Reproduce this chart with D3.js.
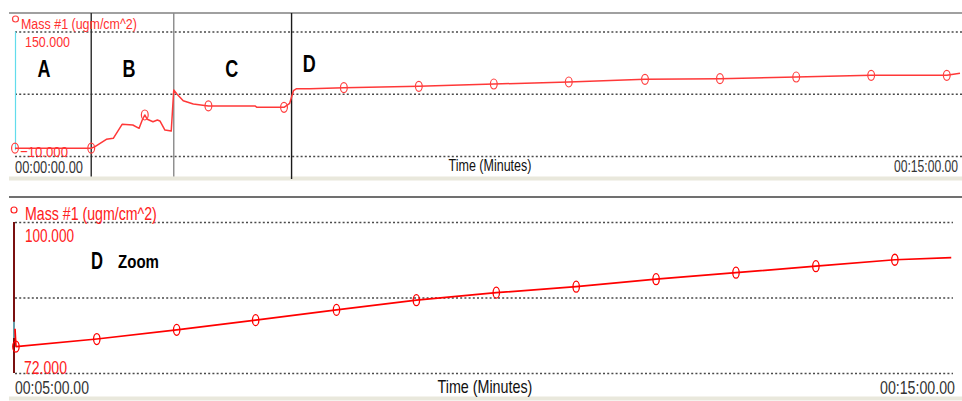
<!DOCTYPE html>
<html>
<head>
<meta charset="utf-8">
<script src="https://cdn.jsdelivr.net/npm/d3@7"></script>
<style>
  html, body { margin: 0; padding: 0; background: #fff; }
  svg { display: block; }
  text { font-family: "Liberation Sans", Arial, sans-serif; }
</style>
</head>
<body>
<svg id="chart" width="962" height="401"></svg>
<script>
// ---- Top panel: full run, phases A-D (minutes, ugm/cm^2) ----
const topTime = [0, 1.21, 1.27, 1.45, 1.56, 1.70, 1.87, 1.97, 2.02, 2.06, 2.10, 2.19, 2.26, 2.30, 2.38, 2.48,
                 2.52, 2.57, 2.67, 2.83, 3.07, 3.81, 3.84, 4.27, 4.36, 4.42, 4.47, 4.68,
                 5.22, 6.41, 7.60, 8.79, 10.00, 11.19, 12.40, 13.59, 14.79, 15.00];
const topMass = [0, 0, 2.0, 11.5, 12.7, 30.7, 29.8, 25.6, 36.3, 42.7, 37.2, 34.1, 36.3, 35.0, 23.4, 22.1,
                 74.8, 69.7, 61.1, 56.8, 54.3, 54.3, 52.6, 52.6, 57.7, 73.9, 76.5, 76.5,
                 77.8, 79.6, 82.5, 85.1, 88.6, 89.4, 91.5, 93.7, 93.7, 96.3];
const topMarkerTime = [0, 1.21, 2.06, 3.07, 4.27, 5.22, 6.41, 7.60, 8.79, 10.00, 11.19, 12.40, 13.59, 14.79];
const topYTicks = [-10, 70, 150];
const phaseBounds = [1.21, 2.52, 4.39];
const phaseLabels = ["A", "B", "C", "D"];
const phaseLabelTime = [0.46, 1.81, 3.44, 4.67];

// ---- Bottom panel: phase D zoom ----
const botTime = [5.00, 5.01, 5.87, 6.72, 7.56, 8.42, 9.27, 10.12, 10.97, 11.82, 12.67, 13.52, 14.36, 14.96];
const botMass = [80.2, 76.9, 78.3, 80.0, 81.8, 83.7, 85.5, 86.9, 88.0, 89.4, 90.6, 91.8, 93.0, 93.4];
const botMarkerTime = [5.01, 5.87, 6.72, 7.56, 8.42, 9.27, 10.12, 10.97, 11.82, 12.67, 13.52, 14.36];
const botYTicks = [72, 86, 100];

const seriesName = "Mass #1 (ugm/cm^2)";
const axisTitle = "Time (Minutes)";
const topTimeLabels = ["00:00:00.00", "00:15:00.00"];
const botTimeLabels = ["00:05:00.00", "00:15:00.00"];

const svg = d3.select("#chart");
const fmt = d3.format(".3f");

function lookup(times, values, t) {
  return values[times.indexOf(t)];
}

// condensed label: the glyphs are squeezed horizontally so the text spans `width`
function label(g, s, x, y, size, width, color, anchor, bold) {
  const t = g.append("text")
    .attr("font-size", size).attr("fill", color)
    .attr("font-weight", bold ? "bold" : "normal")
    .text(s);
  const natural = t.node().getComputedTextLength();
  const left = anchor === "middle" ? x - width / 2 : anchor === "end" ? x - width : x;
  t.attr("transform", `translate(${left},${y}) scale(${width / natural},1)`);
  return t;
}

function panel(cfg) {
  const g = svg.append("g");
  const x = d3.scaleLinear().domain(cfg.xDomain).range(cfg.xRange);
  const y = d3.scaleLinear().domain(cfg.yDomain).range(cfg.yRange);

  // frame: top rule and bottom band
  g.append("line").attr("x1", 9).attr("x2", 962).attr("y1", cfg.topRule).attr("y2", cfg.topRule)
    .attr("stroke", cfg.ruleColor).attr("stroke-width", 2);
  g.append("rect").attr("x", 9).attr("width", 953).attr("y", cfg.band).attr("height", 4)
    .attr("fill", "#e9e8dc");

  // dotted horizontal grid from the y axis
  const grid = g.append("g")
    .attr("transform", `translate(${cfg.xRange[0]},0)`)
    .call(d3.axisLeft(y).tickValues(cfg.yTicks).tickSize(-(cfg.gridEnd - cfg.xRange[0])).tickFormat(""));
  grid.select(".domain").remove();
  grid.selectAll(".tick line").attr("stroke", "#4a4a4a").attr("stroke-width", 1.6)
    .attr("stroke-dasharray", "2,2.2");

  return { g, x, y };
}

// ===== Top panel =====
const T = panel({
  xDomain: [0, 15], xRange: [15, 960],
  yDomain: [-10, 150], yRange: [156, 31.5],
  yTicks: topYTicks, gridEnd: 962,
  topRule: 13, ruleColor: "#a0a0a0", band: 176.5
});

// cyan axis bar
T.g.append("line").attr("x1", 15.5).attr("x2", 15.5).attr("y1", T.y(150)).attr("y2", T.y(0) + 2)
  .attr("stroke", "#62dcec").attr("stroke-width", 1.2);

// phase separators
const sepColor = ["#2a2a2a", "#8a8a8a", "#1a1a1a"];
T.g.selectAll("line.sep").data(phaseBounds).join("line")
  .attr("class", "sep")
  .attr("x1", d => T.x(d)).attr("x2", d => T.x(d))
  .attr("y1", 13).attr("y2", (d, i) => i === 2 ? 179 : 176.5)
  .attr("stroke", (d, i) => sepColor[i]).attr("stroke-width", 1.4);

const topLine = d3.line().x(d => T.x(d[0])).y(d => T.y(d[1]));
T.g.append("path").datum(d3.zip(topTime, topMass))
  .attr("d", topLine).attr("fill", "none").attr("stroke", "#ff3838").attr("stroke-width", 1.5)
  .attr("stroke-linejoin", "round");
T.g.selectAll("ellipse.mk").data(topMarkerTime).join("ellipse")
  .attr("class", "mk")
  .attr("cx", d => T.x(d)).attr("cy", d => T.y(lookup(topTime, topMass, d)))
  .attr("rx", 3.4).attr("ry", 5)
  .attr("fill", "none").attr("stroke", "#ff4040").attr("stroke-width", 1.2);

// legend and y labels
T.g.append("circle").attr("cx", 15.5).attr("cy", 19).attr("r", 3)
  .attr("fill", "#fff").attr("stroke", "#ff4040").attr("stroke-width", 1.2);
label(T.g, seriesName, 21, 29, 15.5, 116, "#ff3030");
label(T.g, fmt(150), 25, T.y(150) + 15, 15.5, 45, "#ff3030");
label(T.g, fmt(-10), 20, T.y(-10) + 1, 15.5, 48, "#ff3030");

// time labels
label(T.g, topTimeLabels[0], 15, 173, 16, 68, "#333");
label(T.g, axisTitle, 490, 171, 16, 83, "#111", "middle");
label(T.g, topTimeLabels[1], 958, 172, 16, 64, "#333", "end");

// phase letters
phaseLabels.forEach((s, i) => {
  label(T.g, s, T.x(phaseLabelTime[i]), i === 3 ? 72 : 77, 23, 13, "#000", "middle", true);
});

// ===== Bottom panel =====
const B = panel({
  xDomain: [5, 15], xRange: [15, 955],
  yDomain: [72, 100], yRange: [373, 222],
  yTicks: botYTicks, gridEnd: 953,
  topRule: 197, ruleColor: "#707070", band: 396.5
});

// dark red axis bar
B.g.append("line").attr("x1", 14).attr("x2", 14).attr("y1", B.y(100)).attr("y2", B.y(72))
  .attr("stroke", "#7a1010").attr("stroke-width", 2);
B.g.append("line").attr("x1", 14).attr("x2", 14).attr("y1", B.y(81.5)).attr("y2", B.y(78.5))
  .attr("stroke", "#62dcec").attr("stroke-width", 1.4);

const botLine = d3.line().x(d => B.x(d[0])).y(d => B.y(d[1]));
B.g.append("path").datum(d3.zip(botTime, botMass))
  .attr("d", botLine).attr("fill", "none").attr("stroke", "#ff0000").attr("stroke-width", 1.7)
  .attr("stroke-linejoin", "round");
B.g.selectAll("ellipse.mk").data(botMarkerTime).join("ellipse")
  .attr("class", "mk")
  .attr("cx", d => B.x(d)).attr("cy", d => B.y(lookup(botTime, botMass, d)))
  .attr("rx", 3.2).attr("ry", 5.5)
  .attr("fill", "none").attr("stroke", "#ff0000").attr("stroke-width", 1.3);

B.g.append("circle").attr("cx", 14).attr("cy", 210).attr("r", 3)
  .attr("fill", "#fff").attr("stroke", "#ff2020").attr("stroke-width", 1.2);
label(B.g, seriesName, 25, 220, 17.5, 132, "#ff2020");
label(B.g, fmt(100), 25, B.y(100) + 20, 17.5, 49, "#ff2020");
label(B.g, fmt(72), 24, B.y(72) + 1, 17.5, 43, "#ff2020");

label(B.g, botTimeLabels[0], 15, 394, 18, 74, "#333");
label(B.g, axisTitle, 485, 393, 18, 95, "#111", "middle");
label(B.g, botTimeLabels[1], 955, 394, 18, 75, "#333", "end");

label(B.g, "D", 91, 269, 23, 12, "#000", "start", true);
label(B.g, "Zoom", 118, 268, 18, 41, "#000", "start", true);
</script>
</body>
</html>
